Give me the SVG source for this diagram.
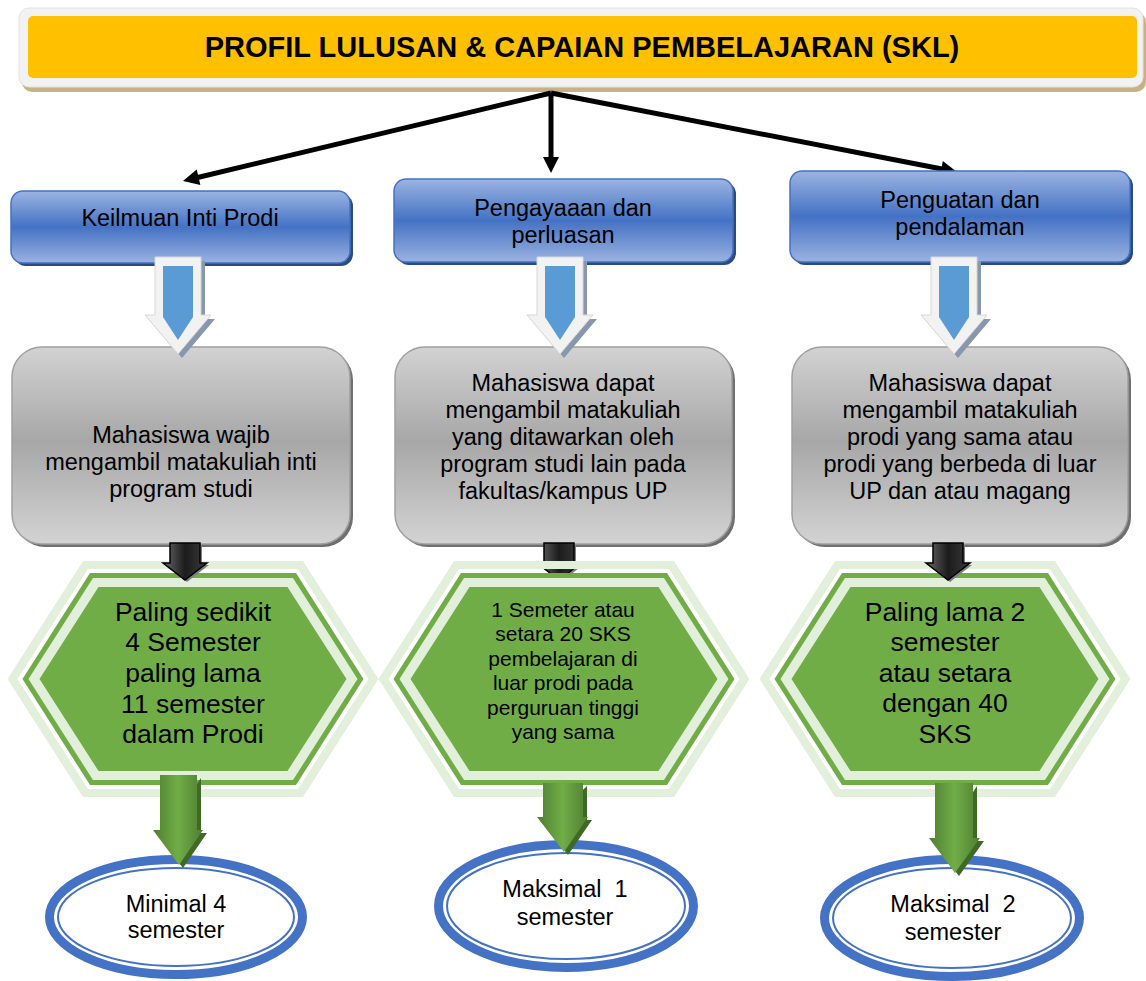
<svg xmlns="http://www.w3.org/2000/svg" xmlns:xlink="http://www.w3.org/1999/xlink" width="1146" height="981" viewBox="0 0 1146 981">
<style>
text{font-family:"Liberation Sans",Arial,sans-serif;fill:#000;text-anchor:middle}
.title{font-size:29px;font-weight:bold}
.t23{font-size:23.5px}
.t26{font-size:26.5px}
.t21{font-size:21px}
.blue{fill:url(#blueGrad);stroke:#4472c4;stroke-width:1.5}
.blueSh{fill:#2b4a80}
.gray{fill:url(#grayGrad);stroke:#a0a0a0;stroke-width:1.5}
.graySh{fill:#6f6f6f}
.conn{stroke:#000;stroke-width:5;fill:none}
.head{fill:#000}
.ellO{fill:#fff;stroke:#4472c4;stroke-width:9}
.ellI{fill:none;stroke:#4472c4;stroke-width:2}
</style>
<defs>
<linearGradient id="blueGrad" x1="0" y1="0" x2="0" y2="1">
<stop offset="0" stop-color="#9bb4e2"/>
<stop offset="0.5" stop-color="#4472c4"/>
<stop offset="1" stop-color="#9ab2e0"/>
</linearGradient>
<linearGradient id="grayGrad" x1="0" y1="0" x2="0" y2="1">
<stop offset="0" stop-color="#d2d2d2"/>
<stop offset="0.48" stop-color="#a7a7a7"/>
<stop offset="1" stop-color="#d3d3d3"/>
</linearGradient>
<linearGradient id="greenGrad" x1="0" y1="0" x2="1" y2="0">
<stop offset="0" stop-color="#4f7e31"/>
<stop offset="0.5" stop-color="#70ad47"/>
<stop offset="1" stop-color="#4f7e31"/>
</linearGradient>
<linearGradient id="blackGrad" x1="0" y1="0" x2="1" y2="0">
<stop offset="0" stop-color="#6a6a6a"/>
<stop offset="0.5" stop-color="#1c1c1c"/>
<stop offset="1" stop-color="#3a3a3a"/>
</linearGradient>
<g id="hex">
<path fill="#e2efda" fill-rule="evenodd" d="M-185.5,0 L-110,-118 L110,-118 L185.5,0 L110,118 L-110,118 Z M-175.5,0 L-105,110 L105,110 L175.5,0 L105,-110 L-105,-110 Z"/>
<polygon fill="#70ad47" points="-170.5,0 -103,-106 103,-106 170.5,0 103,106 -103,106"/>
<polygon fill="#e2efda" points="-164.5,0 -100,-101 100,-101 164.5,0 100,101 -100,101"/>
<polygon fill="#70ad47" points="-153.5,0 -94.5,-92 94.5,-92 153.5,0 94.5,92 -94.5,92"/>
</g>
<g id="hollow">
<path fill="#8797ad" d="M-19,4 L27,4 L27,62 L37,62 L4,101 L-29,62 L-19,62 Z"/>
<path fill="#f2f2f2" stroke="#d6d6d6" stroke-width="1" d="M-23,0 L23,0 L23,58 L33,58 L0,97 L-33,58 L-23,58 Z"/>
<path fill="#5b9bd5" d="M-15,9 L15,9 L15,60 L0,83 L-15,60 Z"/>
</g>
<g id="blackArr">
<path fill="#808080" d="M-13,2 L17,2 L17,22 L24,22 L2,39 L-20,22 L-13,22 Z"/>
<path fill="url(#blackGrad)" stroke="#000" stroke-width="1.5" d="M-15,0 L15,0 L15,20 L22,20 L0,37 L-22,20 L-15,20 Z"/>
</g>
</defs>

<g id="title">
<rect x="22" y="12" width="1124" height="80" rx="10" fill="#c6b283"/>
<rect x="19" y="8" width="1124" height="79" rx="10" fill="#f2f2f2" stroke="#e2e2e2"/>
<rect x="28" y="16" width="1109" height="62" rx="5" fill="#ffc000"/>
<text class="title" x="582" y="57">PROFIL LULUSAN &amp; CAPAIAN PEMBELAJARAN (SKL)</text>
</g>

<g id="connectors-top">
<line class="conn" x1="551" y1="93" x2="196.6" y2="177.7"/>
<polygon class="head" points="183,181 196.7,169.5 200.4,185.1"/>
<line class="conn" x1="551" y1="93" x2="551" y2="159"/>
<polygon class="head" points="543,157 559,157 551,173"/>
<line class="conn" x1="551" y1="93" x2="943.3" y2="169.3"/>
<polygon class="head" points="957,172 939.8,176.8 942.8,161.1"/>
</g>

<g id="blue1">
<rect class="blueSh" x="14" y="194" width="339" height="72" rx="12"/>
<rect class="blue" x="11" y="191" width="339" height="72" rx="12"/>
<text class="t23" x="180" y="226">Keilmuan Inti Prodi</text>
</g>
<g id="blue2">
<rect class="blueSh" x="397" y="182" width="339" height="83" rx="12"/>
<rect class="blue" x="394" y="179" width="339" height="83" rx="12"/>
<text class="t23" x="563" y="216">Pengayaaan dan</text>
<text class="t23" x="563" y="243">perluasan</text>
</g>
<g id="blue3">
<rect class="blueSh" x="793" y="174" width="340" height="91" rx="12"/>
<rect class="blue" x="790" y="171" width="340" height="91" rx="12"/>
<text class="t23" x="960" y="208">Penguatan dan</text>
<text class="t23" x="960" y="235">pendalaman</text>
</g>

<g id="gray1">
<rect class="graySh" x="15" y="350" width="338" height="197" rx="30"/>
<rect class="gray" x="12" y="347" width="338" height="197" rx="30"/>
<text class="t23" x="181" y="443">Mahasiswa wajib</text>
<text class="t23" x="181" y="470">mengambil matakuliah inti</text>
<text class="t23" x="181" y="497">program studi</text>
</g>
<g id="gray2">
<rect class="graySh" x="398" y="350" width="337" height="197" rx="30"/>
<rect class="gray" x="395" y="347" width="337" height="197" rx="30"/>
<text class="t23" x="563" y="391">Mahasiswa dapat</text>
<text class="t23" x="563" y="418">mengambil matakuliah</text>
<text class="t23" x="563" y="445">yang ditawarkan oleh</text>
<text class="t23" x="563" y="472">program studi lain pada</text>
<text class="t23" x="563" y="499">fakultas/kampus UP</text>
</g>
<g id="gray3">
<rect class="graySh" x="795" y="350" width="336" height="197" rx="30"/>
<rect class="gray" x="792" y="347" width="336" height="197" rx="30"/>
<text class="t23" x="960" y="391">Mahasiswa dapat</text>
<text class="t23" x="960" y="418">mengambil matakuliah</text>
<text class="t23" x="960" y="445">prodi yang sama atau</text>
<text class="t23" x="960" y="472">prodi yang berbeda di luar</text>
<text class="t23" x="960" y="499">UP dan atau magang</text>
</g>

<g id="connectors-under">
<use xlink:href="#blackArr" transform="translate(559,543)"/>
</g>

<g id="hex1">
<use xlink:href="#hex" transform="translate(193,679)"/>
<text class="t26" x="193" y="621">Paling sedikit</text>
<text class="t26" x="193" y="651">4 Semester</text>
<text class="t26" x="193" y="682">paling lama</text>
<text class="t26" x="193" y="713">11 semester</text>
<text class="t26" x="193" y="743">dalam Prodi</text>
</g>
<g id="hex2">
<use xlink:href="#hex" transform="translate(564,679)"/>
<text class="t21" x="563" y="617">1 Semeter atau</text>
<text class="t21" x="563" y="641">setara 20 SKS</text>
<text class="t21" x="563" y="666">pembelajaran di</text>
<text class="t21" x="563" y="690">luar prodi pada</text>
<text class="t21" x="563" y="715">perguruan tinggi</text>
<text class="t21" x="563" y="739">yang sama</text>
</g>
<g id="hex3">
<use xlink:href="#hex" transform="translate(945,679)"/>
<text class="t26" x="945" y="621">Paling lama 2</text>
<text class="t26" x="945" y="651">semester</text>
<text class="t26" x="945" y="682">atau setara</text>
<text class="t26" x="945" y="712">dengan 40</text>
<text class="t26" x="945" y="743">SKS</text>
</g>

<g id="ell1">
<ellipse class="ellO" cx="176" cy="917" rx="126.5" ry="57.5"/>
<ellipse class="ellI" cx="176" cy="917" rx="118" ry="49"/>
<text class="t23" x="176" y="912">Minimal 4</text>
<text class="t23" x="176" y="938">semester</text>
</g>
<g id="ell2">
<ellipse class="ellO" cx="566" cy="906" rx="127.5" ry="61.5"/>
<ellipse class="ellI" cx="566" cy="906" rx="119" ry="53"/>
<text class="t23" x="565" y="897" xml:space="preserve">Maksimal  1</text>
<text class="t23" x="565" y="925">semester</text>
</g>
<g id="ell3">
<ellipse class="ellO" cx="952" cy="918" rx="127.5" ry="58.5"/>
<ellipse class="ellI" cx="952" cy="918" rx="119" ry="50"/>
<text class="t23" x="953" y="912" xml:space="preserve">Maksimal  2</text>
<text class="t23" x="953" y="940">semester</text>
</g>

<g id="connectors">
<use xlink:href="#hollow" transform="translate(178,257)"/>
<use xlink:href="#hollow" transform="translate(560,257)"/>
<use xlink:href="#hollow" transform="translate(954,257)"/>
<use xlink:href="#blackArr" transform="translate(185,543)"/>
<use xlink:href="#blackArr" transform="translate(948,543)"/>
<path fill="#3e6a26" d="M201,778 L201,833 L207,833 L183,868 L161,840 Z"/>
<path fill="url(#greenGrad)" d="M160,775 L197,775 L197,830 L203,830 L179,865 L153,830 L160,830 Z"/>
<path fill="#3e6a26" d="M587,786 L587,820 L592,820 L568,855 L546,826 Z"/>
<path fill="url(#greenGrad)" d="M543,783 L583,783 L583,817 L588,817 L564,852 L537,817 L543,817 Z"/>
<path fill="#3e6a26" d="M977,786 L977,841 L984,841 L959,876 L937,848 Z"/>
<path fill="url(#greenGrad)" d="M935,783 L973,783 L973,838 L980,838 L955,873 L929,838 L935,838 Z"/>
</g>
</svg>
